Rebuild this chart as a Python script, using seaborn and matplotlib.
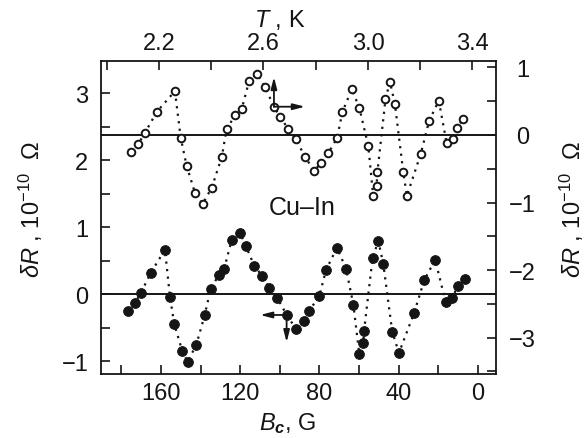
import matplotlib
matplotlib.use("Agg")
import matplotlib.pyplot as plt
from matplotlib.ticker import FixedLocator, MultipleLocator
import seaborn as sns
import pandas as pd

# Field sweep, filled circles (bottom axis B_c in G, left axis dR)
field_G = [176.5, 173.1, 170.1, 165.1, 158.0, 155.5, 153.3, 149.3, 146.6, 142.2,
           138.0, 134.9, 130.7, 128.1, 124.3, 120.1, 117.1, 112.9, 108.9, 105.4,
           101.3, 96.6, 91.9, 87.8, 85.2, 80.1, 76.7, 71.2, 66.6, 62.9,
           59.9, 57.9, 57.5, 53.2, 50.3, 47.8, 43.3, 39.9, 32.2, 27.1,
           21.6, 16.3, 13.0, 10.2, 6.6]
dR_field = [-0.25, -0.13, 0.02, 0.32, 0.66, -0.04, -0.45, -0.85, -1.01, -0.76,
            -0.32, 0.08, 0.29, 0.38, 0.81, 0.91, 0.71, 0.42, 0.27, 0.09,
            -0.06, -0.31, -0.52, -0.40, -0.25, -0.03, 0.36, 0.69, 0.38, -0.16,
            -0.90, -0.73, -0.55, 0.54, 0.79, 0.45, -0.56, -0.88, -0.28, 0.21,
            0.51, -0.12, -0.06, 0.12, 0.23]

# Temperature sweep, open circles (top axis T in K, right axis dR)
temp_K = [2.092, 2.121, 2.146, 2.191, 2.261, 2.283, 2.306, 2.338, 2.367, 2.402,
          2.440, 2.459, 2.491, 2.517, 2.545, 2.576, 2.606, 2.640, 2.663, 2.695,
          2.723, 2.759, 2.793, 2.820, 2.848, 2.882, 2.902, 2.938, 2.967, 3.001,
          3.020, 3.033, 3.036, 3.067, 3.084, 3.103, 3.135, 3.149, 3.202, 3.234,
          3.271, 3.301, 3.327, 3.340, 3.365]
dR_temp = [-0.25, -0.13, 0.03, 0.34, 0.65, -0.04, -0.46, -0.86, -1.02, -0.78,
           -0.33, 0.09, 0.29, 0.39, 0.80, 0.90, 0.71, 0.42, 0.27, 0.09,
           -0.06, -0.32, -0.53, -0.42, -0.27, -0.04, 0.34, 0.68, 0.40, -0.16,
           -0.90, -0.75, -0.55, 0.53, 0.79, 0.46, -0.55, -0.90, -0.28, 0.21,
           0.51, -0.12, -0.06, 0.11, 0.23]

bottom_ticks = [160, 120, 80, 40, 0]
top_ticks = [2.2, 2.6, 3.0, 3.4]
left_ticks = [-1, 0, 1, 2, 3]
right_ticks = [1, 0, -1, -2, -3]

field_df = pd.DataFrame({"B": field_G, "dR": dR_field})
temp_df = pd.DataFrame({"T": temp_K, "dR": dR_temp})

sns.set_style("ticks")
plt.rcParams["font.family"] = ["Liberation Sans", "DejaVu Sans"]
plt.rcParams["mathtext.fontset"] = "custom"
plt.rcParams["mathtext.rm"] = "Liberation Sans"
plt.rcParams["mathtext.it"] = "Liberation Sans:italic"
plt.rcParams["mathtext.bf"] = "Liberation Sans:bold"
plt.rcParams["mathtext.bfit"] = "Liberation Sans:italic:bold"

FS = 17
INK = "#151515"

fig = plt.figure(figsize=(5.86, 4.39), dpi=100)
rect = [101 / 586, 1 - 375 / 439, 395 / 586, 313 / 439]
ax = fig.add_axes(rect)
ax2 = fig.add_axes(rect, frameon=False)
ax2.patch.set_visible(False)

# lower curve: dR vs field
sns.lineplot(data=field_df, x="B", y="dR", ax=ax, sort=False, estimator=None,
             color=INK, linewidth=1.6, linestyle=(0, (1, 2.4)))
sns.scatterplot(data=field_df, x="B", y="dR", ax=ax, color=INK, s=50,
                edgecolor=INK, linewidth=0.6, zorder=3)

# upper curve: dR vs temperature
sns.lineplot(data=temp_df, x="T", y="dR", ax=ax2, sort=False, estimator=None,
             color=INK, linewidth=1.6, linestyle=(0, (1, 2.4)))
sns.scatterplot(data=temp_df, x="T", y="dR", ax=ax2, color="white", s=30,
                edgecolor=INK, linewidth=1.4, zorder=3)

ax.axhline(0, color=INK, lw=1.4, zorder=1)
ax2.axhline(0, color=INK, lw=1.4, zorder=1)

ax.set_xlim(190.3, -9.1)
ax.set_ylim(-1.194, 3.478)
ax2.set_xlim(1.978, 3.49)
ax2.set_ylim(-3.54, 1.096)

ax.xaxis.set_ticks_position("bottom")
ax.yaxis.set_ticks_position("left")
ax2.xaxis.set_ticks_position("top")
ax2.yaxis.set_ticks_position("right")
ax2.xaxis.set_label_position("top")
ax2.yaxis.set_label_position("right")

ax.xaxis.set_major_locator(FixedLocator(bottom_ticks))
ax.xaxis.set_minor_locator(MultipleLocator(20))
ax.yaxis.set_major_locator(FixedLocator(left_ticks))
ax.yaxis.set_minor_locator(MultipleLocator(0.5))
ax2.xaxis.set_major_locator(FixedLocator(top_ticks))
ax2.xaxis.set_minor_locator(MultipleLocator(0.2))
ax2.yaxis.set_major_locator(FixedLocator(right_ticks))
ax2.yaxis.set_minor_locator(MultipleLocator(0.5))
ax.set_xticklabels([str(v) for v in bottom_ticks])
ax.set_yticklabels([f"{v:d}".replace("-", "\u2212") for v in left_ticks])
ax2.set_xticklabels([f"{v:.1f}" for v in top_ticks])
ax2.set_yticklabels([f"{v:d}".replace("-", "\u2212") for v in right_ticks])

for a in (ax, ax2):
    a.tick_params(which="both", direction="in", length=6.5, width=1.2,
                  colors=INK, labelsize=FS, labelcolor=INK)
ax.tick_params(axis="x", pad=5.5)
ax.tick_params(axis="y", pad=9)
ax2.tick_params(axis="x", pad=5)
ax2.tick_params(axis="y", pad=19)
for t in ax2.get_yticklabels():
    t.set_horizontalalignment("center")

for sp in ax.spines.values():
    sp.set_linewidth(1.3)
    sp.set_color(INK)

ax.set_xlabel("")
ax.set_ylabel("")
ax2.set_xlabel("")
ax2.set_ylabel("")

# axis titles
fig.text(288 / 586, 1 - 424 / 439, r"$B_{\mathbfit{c}}$, G", fontsize=FS,
         ha="center", va="center", color=INK)
fig.text(280 / 586, 1 - 20 / 439, r"$T$ , K", fontsize=FS,
         ha="center", va="center", color=INK)
fig.text(31 / 586, 1 - 210 / 439, r"$\delta R$ , 10$^{-10}$  Ω", fontsize=FS,
         ha="center", va="center", rotation=90, color=INK)
fig.text(558 / 586, 1 - 210 / 439, r"$\delta R$ , 10$^{-10}$  Ω", fontsize=FS,
         ha="left", va="center", rotation=90, color=INK)

ax.text(88.8, 1.30, "Cu\u2013In", fontsize=18, ha="center", va="center", color=INK)

# arrows marking which axes each curve belongs to
arrow = dict(arrowstyle="-|>,head_length=0.7,head_width=0.18", color=INK,
             lw=1.3, shrinkA=0, shrinkB=0)
ax2.annotate("", xy=(2.640, 0.86), xytext=(2.640, 0.419), arrowprops=arrow)
ax2.annotate("", xy=(2.759, 0.419), xytext=(2.640, 0.419), arrowprops=arrow)
ax.annotate("", xy=(110.0, -0.313), xytext=(96.6, -0.313), arrowprops=arrow)
ax.annotate("", xy=(96.6, -0.72), xytext=(96.6, -0.313), arrowprops=arrow)

fig.savefig("out.png", dpi=100, facecolor="white")
